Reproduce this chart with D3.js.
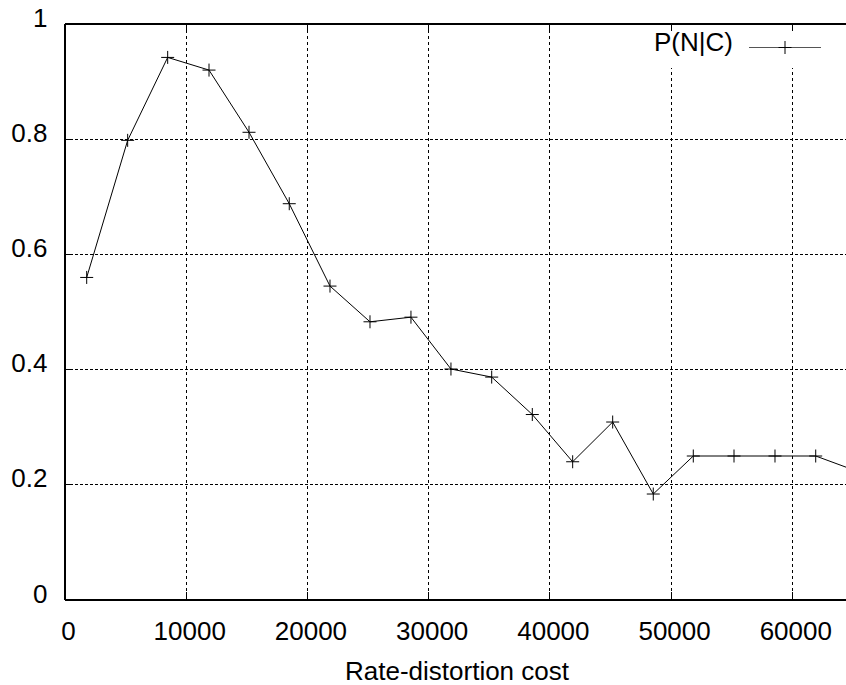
<!DOCTYPE html>
<html>

<head>
    <title>P(N|C)</title>
    <script src="https://cdn.jsdelivr.net/npm/d3@7/dist/d3.min.js"></script>
    <style>
        body { margin: 0; background: #fff; }
        text { font-family: "Liberation Sans", Arial, sans-serif; font-size: 26px; fill: #000; }
    </style>
</head>

<body>
    <svg width="846" height="685" id="mainsvg"></svg>
    <script>
        // data
        const costs = [1790, 5170, 8470, 11880, 15180, 18500, 21860, 25160, 28540, 31840,
            35200, 38550, 41880, 45180, 48530, 51830, 55190, 58570, 61930, 65280];
        const probs = [0.560, 0.798, 0.942, 0.920, 0.812, 0.688, 0.545, 0.483, 0.491, 0.401,
            0.387, 0.322, 0.240, 0.309, 0.184, 0.250, 0.250, 0.250, 0.250, 0.224];
        const xTicks = [0, 10000, 20000, 30000, 40000, 50000, 60000];
        const yTicks = [0, 0.2, 0.4, 0.6, 0.8, 1];
        const seriesName = 'P(N|C)';
        const xTitle = 'Rate-distortion cost';

        const svg = d3.select('svg');
        const plotLeft = 65, plotTop = 24, plotBottom = 600, plotRight = 846;
        const x = d3.scaleLinear().domain([0, 65000]).range([plotLeft, plotLeft + 65000 * 0.012122]);
        const y = d3.scaleLinear().domain([0, 1]).range([plotBottom, plotTop]);
        const points = costs.map((c, i) => ({ c: c, p: probs[i] }));

        // grid
        svg.selectAll('.vgrid').data(xTicks.filter(d => d > 0)).join('line').attr('class', 'vgrid')
            .attr('x1', d => x(d)).attr('x2', d => x(d)).attr('y1', plotTop).attr('y2', plotBottom)
            .attr('stroke', '#000').attr('stroke-width', 1).attr('stroke-dasharray', '3,3')
            .attr('shape-rendering', 'crispEdges');
        svg.selectAll('.hgrid').data(yTicks.filter(d => d > 0 && d < 1)).join('line').attr('class', 'hgrid')
            .attr('x1', plotLeft).attr('x2', plotRight).attr('y1', d => y(d)).attr('y2', d => y(d))
            .attr('stroke', '#000').attr('stroke-width', 1).attr('stroke-dasharray', '3,2')
            .attr('shape-rendering', 'crispEdges');

        // legend background covers grid
        svg.append('rect').attr('x', 630).attr('y', 31).attr('width', 216).attr('height', 37).attr('fill', '#fff');

        // borders (no right border, plot runs past the window)
        const border = svg.append('g').attr('stroke', '#000').attr('stroke-width', 1.2).attr('shape-rendering', 'crispEdges');
        border.append('line').attr('x1', plotLeft).attr('x2', plotRight).attr('y1', plotTop).attr('y2', plotTop);
        border.append('line').attr('x1', plotLeft).attr('x2', plotRight).attr('y1', plotBottom).attr('y2', plotBottom);
        border.append('line').attr('x1', plotLeft).attr('x2', plotLeft).attr('y1', plotTop).attr('y2', plotBottom).attr('stroke-width', 2);

        // ticks
        svg.selectAll('.xtickb').data(xTicks).join('line').attr('class', 'xtickb')
            .attr('x1', d => x(d)).attr('x2', d => x(d)).attr('y1', plotBottom).attr('y2', plotBottom - 8)
            .attr('stroke', '#000').attr('shape-rendering', 'crispEdges');
        svg.selectAll('.xtickt').data(xTicks).join('line').attr('class', 'xtickt')
            .attr('x1', d => x(d)).attr('x2', d => x(d)).attr('y1', plotTop).attr('y2', plotTop + 7)
            .attr('stroke', '#000').attr('shape-rendering', 'crispEdges');
        svg.selectAll('.ytick').data(yTicks).join('line').attr('class', 'ytick')
            .attr('x1', plotLeft).attr('x2', plotLeft + 8).attr('y1', d => y(d)).attr('y2', d => y(d))
            .attr('stroke', '#000').attr('shape-rendering', 'crispEdges');

        // tick labels
        svg.selectAll('.xlab').data(xTicks).join('text').attr('class', 'xlab')
            .attr('x', d => x(d) + 3.5).attr('y', 640).attr('text-anchor', 'middle')
            .text(d => d);
        svg.selectAll('.ylab').data(yTicks).join('text').attr('class', 'ylab')
            .attr('x', 47.5).attr('y', d => y(d) + 2.5).attr('text-anchor', 'end')
            .text(d => d3.format('~g')(d));
        svg.append('text').attr('x', 457).attr('y', 680).attr('text-anchor', 'middle').text(xTitle);

        // series
        const line = d3.line().x(d => x(d.c)).y(d => y(d.p));
        svg.append('path').datum(points).attr('d', line)
            .attr('fill', 'none').attr('stroke', '#000').attr('stroke-width', 1);
        const cross = (cx, cy) => `M${cx - 6.5},${cy}H${cx + 6.5}M${cx},${cy - 6.5}V${cy + 6.5}`;
        svg.selectAll('.mark').data(points).join('path').attr('class', 'mark')
            .attr('d', d => cross(x(d.c), y(d.p)))
            .attr('stroke', '#000').attr('stroke-width', 1).attr('fill', 'none');

        // legend
        svg.append('text').attr('x', 733).attr('y', 51).attr('text-anchor', 'end').text(seriesName);
        svg.append('line').attr('x1', 749).attr('x2', 821).attr('y1', 47.5).attr('y2', 47.5)
            .attr('stroke', '#555').attr('stroke-width', 1.2);
        svg.append('path').attr('d', cross(785, 47.5)).attr('stroke', '#000').attr('stroke-width', 1);
    </script>
</body>

</html>
